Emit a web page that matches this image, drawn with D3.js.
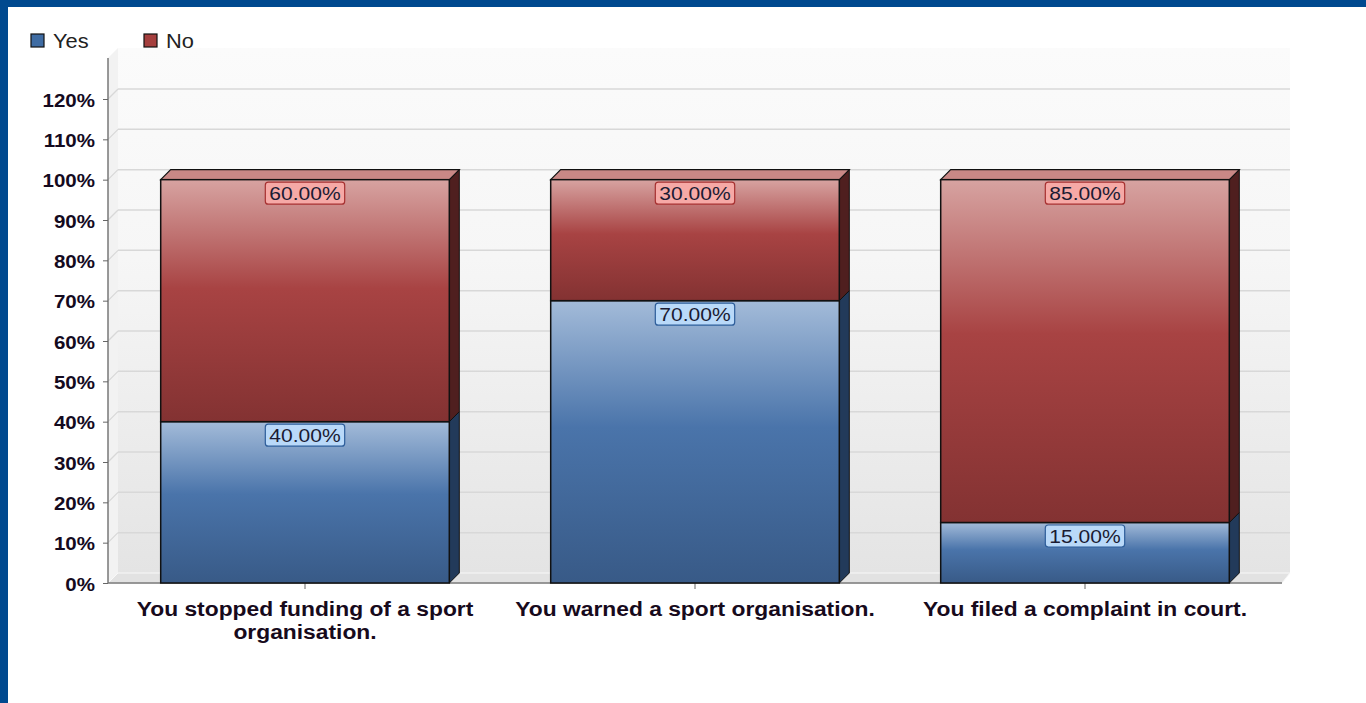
<!DOCTYPE html>
<html>
<head>
<meta charset="utf-8">
<script src="https://cdn.jsdelivr.net/npm/d3@7"></script>
<style>
  body { margin: 0; background: #fff; overflow: hidden; }
  text { font-family: "Liberation Sans", Arial, sans-serif; }
</style>
</head>
<body>
<script>
const categories = ['You stopped funding of a sport organisation.', 'You warned a sport organisation.', 'You filed a complaint in court.'];
const catLines = [['You stopped funding of a sport', 'organisation.'], ['You warned a sport organisation.'], ['You filed a complaint in court.']];
const seriesNames = ['Yes', 'No'];
const yesValues = [0.40, 0.70, 0.15];
const noValues = [0.60, 0.30, 0.85];
const yTicks = [0, 0.1, 0.2, 0.3, 0.4, 0.5, 0.6, 0.7, 0.8, 0.9, 1.0, 1.1, 1.2];

const width = 1366, height = 703;
const depth = 10;
const stretch = 1.17; // the original renders its text a little wide

const svg = d3.select('body').append('svg')
  .attr('width', width)
  .attr('height', height);

const defs = svg.append('defs');

function grad(id, stops) {
  const g = defs.append('linearGradient').attr('id', id)
    .attr('x1', 0).attr('y1', 0).attr('x2', 0).attr('y2', 1);
  stops.forEach(s => g.append('stop').attr('offset', s[0]).attr('stop-color', s[1]));
}
grad('gYes', [[0, '#a3bbd9'], [0.45, '#4a74aa'], [1, '#385a87']]);
grad('gNo', [[0, '#d7a3a1'], [0.45, '#a84343'], [1, '#833232']]);
grad('gWall', [[0, '#fbfbfb'], [0.4, '#f6f6f6'], [1, '#e4e4e4']]);

const colors = { Yes: '#3f6ca3', No: '#a53f3e' };
const sideColors = { Yes: '#223a5a', No: '#4f1f1f' };
const topColors = { Yes: '#8aa6cc', No: '#c98886' };

// writes a text at (x,y), widened horizontally
function wideText(parent, x, y, str, sx) {
  return parent.append('text')
    .attr('transform', `translate(${x},${y}) scale(${sx},1)`)
    .text(str);
}

// frame
svg.append('rect').attr('width', width).attr('height', 7).attr('fill', '#00498f');
svg.append('rect').attr('width', 8).attr('height', height).attr('fill', '#00498f');

const x = d3.scaleBand()
  .domain(categories)
  .range([110, 1280])
  .paddingInner(0.26)
  .paddingOuter(0.13);

const y = d3.scaleLinear()
  .domain([0, 1.2])
  .range([583, 99]);

// back wall
svg.append('rect')
  .attr('x', 108 + depth).attr('y', 48)
  .attr('width', 1290 - 118).attr('height', y(0) - depth - 48)
  .attr('fill', 'url(#gWall)');
// left wall
svg.append('path')
  .attr('d', `M108,58 L118,48 L118,${y(0) - depth} L108,${y(0)} Z`)
  .attr('fill', '#f2f2f2');
// floor
svg.append('path')
  .attr('d', `M108,${y(0)} L118,${y(0) - depth} L1290,${y(0) - depth} L1282,${y(0)} Z`)
  .attr('fill', '#e2e2e2').attr('stroke', '#f8f8f8').attr('stroke-width', 1);

// gridlines
const grid = svg.append('g');
grid.selectAll('line.h').data(yTicks.slice(1)).enter().append('line')
  .attr('x1', 118).attr('x2', 1290)
  .attr('y1', d => y(d) - depth).attr('y2', d => y(d) - depth)
  .attr('stroke', '#d8d8d8').attr('stroke-width', 1.5);
grid.selectAll('line.d').data(yTicks.slice(1)).enter().append('line')
  .attr('x1', 108).attr('x2', 118)
  .attr('y1', d => y(d)).attr('y2', d => y(d) - depth)
  .attr('stroke', '#d8d8d8').attr('stroke-width', 1.2);

// y axis
const yAxis = d3.axisLeft(y).tickValues(yTicks).tickFormat(d => Math.round(d * 100) + '%').tickSize(5).tickPadding(8);
const ya = svg.append('g').attr('transform', 'translate(108,0)').call(yAxis);
ya.select('.domain').attr('d', `M0,58V${y(0)}`).attr('stroke', '#777').attr('stroke-width', 1.5);
ya.selectAll('.tick line').attr('stroke', '#666');
ya.selectAll('.tick text')
  .attr('x', null).attr('dy', null)
  .attr('transform', 'translate(-13,7) scale(1.08,1)')
  .attr('font-size', 19).attr('font-weight', 'bold').attr('fill', '#140a1e')
  .attr('font-family', '"Liberation Sans", Arial, sans-serif');

// x axis baseline + ticks
svg.append('line').attr('x1', 108).attr('x2', 1282).attr('y1', y(0)).attr('y2', y(0))
  .attr('stroke', '#777').attr('stroke-width', 1.5);
svg.append('g').selectAll('line').data(categories).enter().append('line')
  .attr('x1', d => x(d) + x.bandwidth() / 2).attr('x2', d => x(d) + x.bandwidth() / 2)
  .attr('y1', y(0)).attr('y2', y(0) + 6).attr('stroke', '#666');

// stacked data
const rows = categories.map((c, i) => ({ cat: c, Yes: yesValues[i], No: noValues[i] }));
const stack = d3.stack().keys(seriesNames)(rows);

const bars = svg.append('g');
stack.forEach(layer => {
  const key = layer.key;
  layer.forEach((d, i) => {
    const x0 = x(categories[i]), w = x.bandwidth();
    const yTop = y(d[1]), yBot = y(d[0]);
    const g = bars.append('g');
    // side face
    g.append('path')
      .attr('d', `M${x0 + w},${yTop} L${x0 + w + depth},${yTop - depth} L${x0 + w + depth},${yBot - depth} L${x0 + w},${yBot} Z`)
      .attr('fill', sideColors[key]).attr('stroke', '#111').attr('stroke-width', 1);
    // top face only for the topmost segment
    if (key === seriesNames[seriesNames.length - 1]) {
      g.append('path')
        .attr('d', `M${x0},${yTop} L${x0 + depth},${yTop - depth} L${x0 + w + depth},${yTop - depth} L${x0 + w},${yTop} Z`)
        .attr('fill', topColors[key]).attr('stroke', '#111').attr('stroke-width', 1.2);
    }
    // front face
    g.append('rect')
      .attr('x', x0).attr('y', yTop).attr('width', w).attr('height', yBot - yTop)
      .attr('fill', key === 'Yes' ? 'url(#gYes)' : 'url(#gNo)')
      .attr('stroke', '#111').attr('stroke-width', 1.5);
  });
});

// value labels
const labels = svg.append('g');
stack.forEach(layer => {
  const key = layer.key;
  layer.forEach((d, i) => {
    const cx = x(categories[i]) + x.bandwidth() / 2;
    const yTop = y(d[1]);
    const txt = ((d[1] - d[0]) * 100).toFixed(2) + '%';
    const g = labels.append('g');
    const t = wideText(g, cx, yTop + 20.5, txt, stretch)
      .attr('text-anchor', 'middle')
      .attr('font-size', 18).attr('fill', '#1b1b33');
    const bw = t.node().getBBox().width * stretch;
    g.insert('rect', 'text')
      .attr('x', cx - bw / 2 - 4).attr('y', yTop + 2.5)
      .attr('width', bw + 8).attr('height', 22)
      .attr('rx', 3)
      .attr('fill', key === 'Yes' ? '#b9d9f9' : '#f6a9a6')
      .attr('stroke', key === 'Yes' ? '#2d5d9a' : '#a63030').attr('stroke-width', 1.2);
  });
});

// category labels
const cl = svg.append('g');
catLines.forEach((lines, i) => {
  const cx = x(categories[i]) + x.bandwidth() / 2;
  lines.forEach((ln, j) => {
    wideText(cl, cx, 616 + j * 23, ln, stretch)
      .attr('text-anchor', 'middle')
      .attr('font-size', 19.5).attr('font-weight', 'bold').attr('fill', '#170a1c');
  });
});

// legend
const legend = svg.append('g');
const legendX = [31, 144];
seriesNames.forEach((s, i) => {
  legend.append('rect')
    .attr('x', legendX[i]).attr('y', 34).attr('width', 13).attr('height', 13)
    .attr('fill', colors[s]).attr('stroke', '#111').attr('stroke-width', 1.2);
  wideText(legend, legendX[i] + 22, 48, s, 1.12)
    .attr('font-size', 19.5).attr('fill', '#222');
});
</script>
</body>
</html>
